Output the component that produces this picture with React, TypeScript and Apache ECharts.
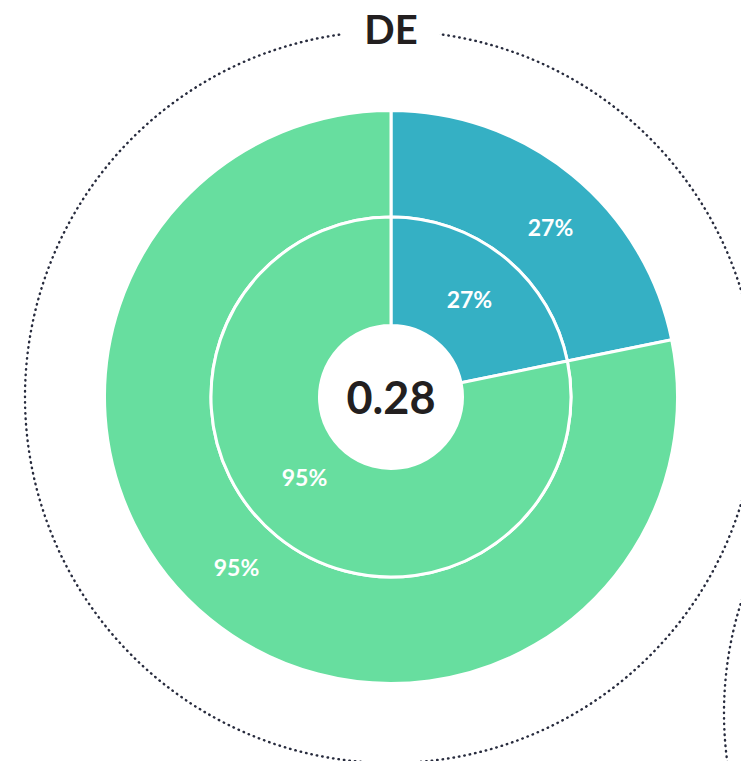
import React, { useEffect, useRef } from "react";
import * as echarts from "echarts";

const title = "DE";
const centerValue = "0.28";
const categories = ["Segment A", "Segment B"];
const outerValues = [26.6, 95.4];
const innerValues = [26.6, 95.4];
const colors = ["#35B0C4", "#67DE9F"];

export default function App() {
  const ref = useRef<HTMLDivElement>(null);
  useEffect(() => {
    if (!ref.current) return;
    const chart = echarts.init(ref.current, null, { renderer: "svg" });
    const cx = 391;
    const cy = 397;
    const outerOffsets = [[10, 13], [-5, -13]];
    const innerOffsets = [[-3, 2], [-5, -20]];
    const mk = (vals: number[], offs: number[][]) =>
      vals.map((v, i) => ({
        name: categories[i],
        value: v,
        itemStyle: { color: colors[i] },
        label: { offset: offs[i] },
      }));
    const labelStyle = {
      show: true,
      position: "inside" as const,
      formatter: (p: any) => Math.round(p.value) + "%",
      color: "#ffffff",
      fontFamily: "Lato",
      fontWeight: "bold" as const,
      fontSize: 23,
    };
    const dotted = { fill: "none", stroke: "#272b3d", lineWidth: 2.4, lineDash: [0.5, 5], lineCap: "round" };
    chart.setOption({
      animation: false,
      backgroundColor: "#ffffff",
      graphic: [
        { type: "circle", shape: { cx, cy, r: 366 }, style: dotted, z: 1 },
        { type: "circle", shape: { cx: 1090, cy: 713, r: 366 }, style: dotted, z: 1 },
        {
          type: "rect",
          shape: { x: cx - 48, y: 8, width: 96, height: 44 },
          style: { fill: "#ffffff" },
          z: 2,
        },
        {
          type: "text",
          x: cx,
          y: 29,
          style: {
            text: title,
            fill: "#231f20",
            font: "bold 40px Lato",
            align: "center",
            verticalAlign: "middle",
          },
          z: 3,
        },
        {
          type: "text",
          x: cx,
          y: 397,
          style: {
            text: centerValue,
            fill: "#231f20",
            font: "bold 45px Lato",
            align: "center",
            verticalAlign: "middle",
          },
          z: 10,
        },
      ],
      series: [
        {
          type: "pie",
          center: [cx, cy],
          radius: [180, 286.5],
          startAngle: 90,
          clockwise: true,
          label: labelStyle,
          labelLine: { show: false },
          itemStyle: { borderColor: "#ffffff", borderWidth: 3 },
          emphasis: { disabled: true },
          data: mk(outerValues, outerOffsets),
        },
        {
          type: "pie",
          center: [cx, cy],
          radius: [71.5, 180],
          startAngle: 90,
          clockwise: true,
          label: labelStyle,
          labelLine: { show: false },
          itemStyle: { borderColor: "#ffffff", borderWidth: 3 },
          emphasis: { disabled: true },
          data: mk(innerValues, innerOffsets),
        },
      ],
    });
    return () => chart.dispose();
  }, []);
  return (
    <div
      ref={ref}
      style={{ position: "fixed", left: 0, top: 0, width: 741, height: 761 }}
    />
  );
}
